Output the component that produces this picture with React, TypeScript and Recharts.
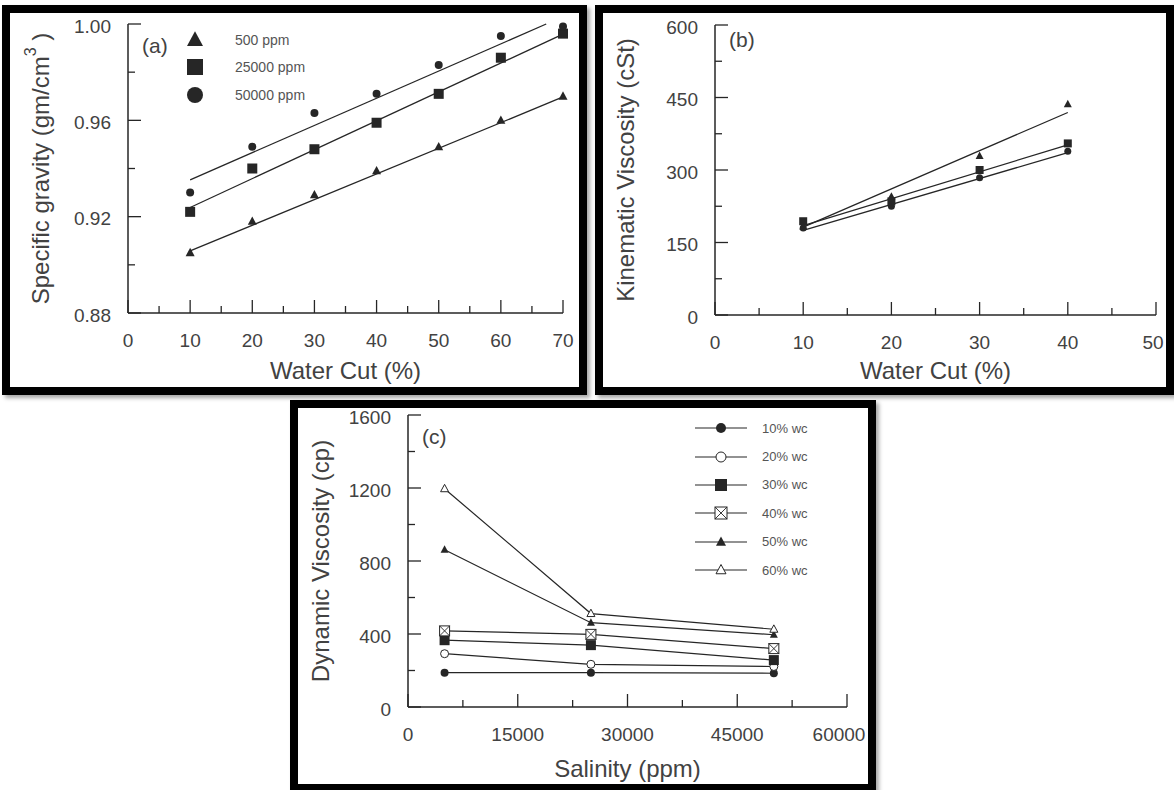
import { ScatterChart, Scatter, XAxis, YAxis, Legend, Label } from "recharts";

const INK = "#262626";
const TEXT = "#424242";
const FONT = "'Liberation Sans', Arial, Helvetica, sans-serif";

// (a) specific gravity vs water cut
const wcA = [10, 20, 30, 40, 50, 60, 70];
const sg500 = [0.905, 0.918, 0.929, 0.939, 0.949, 0.96, 0.97];
const sg25000 = [0.922, 0.94, 0.948, 0.959, 0.971, 0.986, 0.996];
const sg50000 = [0.93, 0.949, 0.963, 0.971, 0.983, 0.995, 0.999];
const fitX500 = [10, 70];
const fitY500 = [0.9058, 0.9697];
const fitX25000 = [10, 70];
const fitY25000 = [0.9238, 0.9958];
const fitX50000 = [10, 67.3];
const fitY50000 = [0.9353, 1.0];
const xTicksA = [0, 5, 10, 15, 20, 25, 30, 35, 40, 45, 50, 55, 60, 65, 70];
const xLabelsA = [0, 10, 20, 30, 40, 50, 60, 70];
const yTicksA = [0.88, 0.9, 0.92, 0.94, 0.96, 0.98, 1.0];
const yLabelsA = [0.88, 0.92, 0.96, 1.0];

// (b) kinematic viscosity vs water cut
const wcB = [10, 20, 30, 40];
const kv500 = [183, 245, 329, 436];
const kv25000 = [194, 235, 300, 355];
const kv50000 = [180, 225, 284, 339];
const fitXB = [10, 40];
const fitKv500 = [182, 419];
const fitKv25000 = [185, 352];
const fitKv50000 = [175, 336];
const xTicksB = [0, 5, 10, 15, 20, 25, 30, 35, 40, 45, 50];
const xLabelsB = [0, 10, 20, 30, 40, 50];
const yTicksB = [0, 75, 150, 225, 300, 375, 450, 525, 600];
const yLabelsB = [0, 150, 300, 450, 600];

// (c) dynamic viscosity vs salinity
const salinity = [5000, 25000, 50000];
const dv10 = [188, 188, 185];
const dv20 = [292, 234, 222];
const dv30 = [366, 339, 257];
const dv40 = [417, 398, 320];
const dv50 = [862, 462, 396];
const dv60 = [1196, 512, 426];
const xTicksC = [0, 7500, 15000, 22500, 30000, 37500, 45000, 52500, 60000];
const xLabelsC = [0, 15000, 30000, 45000, 60000];
const yTicksC = [0, 200, 400, 600, 800, 1000, 1200, 1400, 1600];
const yLabelsC = [0, 400, 800, 1200, 1600];

const pts = (xs: number[], ys: number[]) => xs.map((x, i) => ({ x, y: ys[i] }));

type Kind = "dot" | "ring" | "sq" | "sqx" | "tri" | "trio";

function Marker({ kind, cx, cy, s }: { kind: Kind; cx: number; cy: number; s: number }) {
  const h = s / 2;
  const tri = `${cx},${cy - h * 1.1} ${cx - h},${cy + h * 0.75} ${cx + h},${cy + h * 0.75}`;
  switch (kind) {
    case "dot":
      return <circle cx={cx} cy={cy} r={h} fill={INK} />;
    case "ring":
      return <circle cx={cx} cy={cy} r={h} fill="#fff" stroke={INK} strokeWidth={1} />;
    case "sq":
      return <rect x={cx - h} y={cy - h} width={s} height={s} fill={INK} />;
    case "sqx":
      return (
        <g>
          <rect x={cx - h} y={cy - h} width={s} height={s} fill="#fff" stroke={INK} strokeWidth={1} />
          <line x1={cx - h} y1={cy - h} x2={cx + h} y2={cy + h} stroke={INK} strokeWidth={0.9} />
          <line x1={cx + h} y1={cy - h} x2={cx - h} y2={cy + h} stroke={INK} strokeWidth={0.9} />
        </g>
      );
    case "tri":
      return <polygon points={tri} fill={INK} />;
    default:
      return <polygon points={tri} fill="#fff" stroke={INK} strokeWidth={1} />;
  }
}

const shapeOf = (kind: Kind, s: number) => (p: any) => <Marker kind={kind} cx={p.cx} cy={p.cy} s={s} />;
const noShape = () => <g />;

// inward tick marks, long ones carry a label; the last label can be nudged away from the frame
function axisTick(side: "x" | "y", labels: number[], fmt: (v: number) => string, lastDx = 0) {
  const last = labels[labels.length - 1];
  return (props: any) => {
    const { x, y, payload } = props;
    const v = payload.value as number;
    const major = labels.some((l) => Math.abs(l - v) < 1e-9);
    const len = major ? 13 : 7;
    if (side === "x") {
      const dx = v === last ? lastDx : 0;
      return (
        <g>
          <line x1={x} y1={y} x2={x} y2={y - len} stroke={INK} strokeWidth={1.3} />
          {major && (
            <text x={x + dx} y={y + 27} textAnchor="middle" dominantBaseline="central" fontSize={19} fill={TEXT} fontFamily={FONT}>
              {fmt(v)}
            </text>
          )}
        </g>
      );
    }
    return (
      <g>
        <line x1={x} y1={y} x2={x + len} y2={y} stroke={INK} strokeWidth={1.3} />
        {major && (
          <text x={x - 17} y={y + 2} textAnchor="end" dominantBaseline="central" fontSize={19} fill={TEXT} fontFamily={FONT}>
            {fmt(v)}
          </text>
        )}
      </g>
    );
  };
}

const xTitle = (text: string, dy: number) => (props: any) => {
  const vb = props.viewBox;
  return (
    <text x={vb.x + vb.width / 2} y={vb.y + dy} textAnchor="middle" dominantBaseline="central" fontSize={24} fill={TEXT} fontFamily={FONT}>
      {text}
    </text>
  );
};

const yTitle = (text: string, sup: string, tail: string, dx: number) => (props: any) => {
  const vb = props.viewBox;
  const cx = vb.x + vb.width - dx;
  const cy = vb.y + vb.height / 2;
  return (
    <text x={cx} y={cy} transform={`rotate(-90 ${cx} ${cy})`} textAnchor="middle" dominantBaseline="central" fontSize={24} fill={TEXT} fontFamily={FONT}>
      {text}
      {sup && (
        <tspan dy={-10} fontSize={16}>
          {sup}
        </tspan>
      )}
      {sup ? <tspan dy={10}>{tail}</tspan> : tail}
    </text>
  );
};

const panelTag = (tag: string, dx: number, dy: number) => (props: any) => {
  const vb = props.viewBox;
  return (
    <text x={vb.x + vb.width + dx} y={vb.y + dy} dominantBaseline="central" fontSize={21} fill={TEXT} fontFamily={FONT}>
      {tag}
    </text>
  );
};

const axisLine = { stroke: INK, strokeWidth: 1.5 };
const fitLine = { stroke: INK, strokeWidth: 1.3 };

const seriesA: { name: string; kind: Kind }[] = [
  { name: "500 ppm", kind: "tri" },
  { name: "25000 ppm", kind: "sq" },
  { name: "50000 ppm", kind: "dot" },
];

const legendA = () => (
  <div style={{ fontFamily: FONT }}>
    {seriesA.map((s) => (
      <div key={s.name} style={{ height: 27.5, display: "flex", alignItems: "center" }}>
        <svg width={20} height={20}>
          <Marker kind={s.kind} cx={10} cy={10} s={16} />
        </svg>
        <span style={{ marginLeft: 30, fontSize: 14, color: "#555" }}>{s.name}</span>
      </div>
    ))}
  </div>
);

const seriesC: { name: string; kind: Kind }[] = [
  { name: "10% wc", kind: "dot" },
  { name: "20% wc", kind: "ring" },
  { name: "30% wc", kind: "sq" },
  { name: "40% wc", kind: "sqx" },
  { name: "50% wc", kind: "tri" },
  { name: "60% wc", kind: "trio" },
];

const legendC = () => (
  <div style={{ fontFamily: FONT }}>
    {seriesC.map((s) => (
      <div key={s.name} style={{ height: 28.4, display: "flex", alignItems: "center" }}>
        <svg width={52} height={18}>
          <line x1={0} y1={9} x2={52} y2={9} stroke={INK} strokeWidth={1.2} />
          <Marker kind={s.kind} cx={26} cy={9} s={s.kind === "sq" || s.kind === "sqx" ? 12 : 10} />
        </svg>
        <span style={{ marginLeft: 15, fontSize: 13, color: "#555" }}>{s.name}</span>
      </div>
    ))}
  </div>
);

const panelStyle = (left: number, top: number, width: number, height: number): React.CSSProperties => ({
  position: "absolute",
  left,
  top,
  width,
  height,
  border: "8px solid #000",
  boxSizing: "border-box",
  background: "#fff",
  boxShadow: "3px 3px 4px rgba(0,0,0,0.35)",
});

function ChartA() {
  return (
    <ScatterChart width={569} height={374} margin={{ top: 11, right: 16, bottom: 44, left: 58 }}>
      <XAxis type="number" dataKey="x" domain={[0, 70]} ticks={xTicksA} interval={0} height={30} tickSize={0} tickMargin={0} tickLine={false} axisLine={axisLine} tick={axisTick("x", xLabelsA, (v) => String(v))}>
        <Label content={xTitle("Water Cut (%)", 57)} />
      </XAxis>
      <YAxis type="number" dataKey="y" domain={[0.88, 1.0]} ticks={yTicksA} interval={0} width={60} tickSize={0} tickMargin={0} tickLine={false} axisLine={axisLine} tick={axisTick("y", yLabelsA, (v) => v.toFixed(2))}>
        <Label content={yTitle("Specific gravity (gm/cm", "3", " )", 88)} />
        <Label content={panelTag("(a)", 14, 21)} />
      </YAxis>
      <Scatter data={pts(fitX500, fitY500)} line={fitLine} shape={noShape} isAnimationActive={false} />
      <Scatter data={pts(fitX25000, fitY25000)} line={fitLine} shape={noShape} isAnimationActive={false} />
      <Scatter data={pts(fitX50000, fitY50000)} line={fitLine} shape={noShape} isAnimationActive={false} />
      <Scatter name="500 ppm" data={pts(wcA, sg500)} shape={shapeOf("tri", 9)} isAnimationActive={false} />
      <Scatter name="25000 ppm" data={pts(wcA, sg25000)} shape={shapeOf("sq", 10)} isAnimationActive={false} />
      <Scatter name="50000 ppm" data={pts(wcA, sg50000)} shape={shapeOf("dot", 8)} isAnimationActive={false} />
      <Legend content={legendA} layout="vertical" align="center" verticalAlign="middle" wrapperStyle={{ left: 175, top: 13, width: "auto", height: "auto" }} />
    </ScatterChart>
  );
}

function ChartB() {
  return (
    <ScatterChart width={563} height={374} margin={{ top: 12, right: 10, bottom: 42, left: 52 }}>
      <XAxis type="number" dataKey="x" domain={[0, 50]} ticks={xTicksB} interval={0} height={30} tickSize={0} tickMargin={0} tickLine={false} axisLine={axisLine} tick={axisTick("x", xLabelsB, (v) => String(v), -3)}>
        <Label content={xTitle("Water Cut (%)", 55)} />
      </XAxis>
      <YAxis type="number" dataKey="y" domain={[0, 600]} ticks={yTicksB} interval={0} width={60} tickSize={0} tickMargin={0} tickLine={false} axisLine={axisLine} tick={axisTick("y", yLabelsB, (v) => String(v))}>
        <Label content={yTitle("Kinematic Viscosity (cSt)", "", "", 90)} />
        <Label content={panelTag("(b)", 14, 14)} />
      </YAxis>
      <Scatter data={pts(fitXB, fitKv500)} line={fitLine} shape={noShape} isAnimationActive={false} />
      <Scatter data={pts(fitXB, fitKv25000)} line={fitLine} shape={noShape} isAnimationActive={false} />
      <Scatter data={pts(fitXB, fitKv50000)} line={fitLine} shape={noShape} isAnimationActive={false} />
      <Scatter name="500 ppm" data={pts(wcB, kv500)} shape={shapeOf("tri", 8)} isAnimationActive={false} />
      <Scatter name="50000 ppm" data={pts(wcB, kv50000)} shape={shapeOf("dot", 7)} isAnimationActive={false} />
      <Scatter name="25000 ppm" data={pts(wcB, kv25000)} shape={shapeOf("sq", 8)} isAnimationActive={false} />
    </ScatterChart>
  );
}

function ChartC() {
  const lines = [dv10, dv20, dv30, dv40, dv50, dv60];
  return (
    <ScatterChart width={570} height={376} margin={{ top: 7, right: 21, bottom: 47, left: 50 }}>
      <XAxis type="number" dataKey="x" domain={[0, 60000]} ticks={xTicksC} interval={0} height={30} tickSize={0} tickMargin={0} tickLine={false} axisLine={axisLine} tick={axisTick("x", xLabelsC, (v) => String(v), -8)}>
        <Label content={xTitle("Salinity (ppm)", 61)} />
      </XAxis>
      <YAxis type="number" dataKey="y" domain={[0, 1600]} ticks={yTicksC} interval={0} width={60} tickSize={0} tickMargin={0} tickLine={false} axisLine={axisLine} tick={axisTick("y", yLabelsC, (v) => String(v))}>
        <Label content={yTitle("Dynamic Viscosity (cp)", "", "", 88)} />
        <Label content={panelTag("(c)", 14, 21)} />
      </YAxis>
      {seriesC.map((s, i) => (
        <Scatter
          key={s.name}
          name={s.name}
          data={pts(salinity, lines[i])}
          line={{ stroke: INK, strokeWidth: 1.2 }}
          shape={shapeOf(s.kind, s.kind === "sq" || s.kind === "sqx" ? 10 : 8)}
          isAnimationActive={false}
        />
      ))}
      <Legend content={legendC} layout="vertical" align="center" verticalAlign="middle" wrapperStyle={{ left: 397, top: 6, width: "auto", height: "auto" }} />
    </ScatterChart>
  );
}

export default function App() {
  return (
    <div style={{ position: "absolute", left: 0, top: 0, width: 1174, height: 790, background: "#fff", overflow: "hidden" }}>
      <div style={panelStyle(2, 5, 585, 390)}>
        <ChartA />
      </div>
      <div style={panelStyle(595, 5, 579, 390)}>
        <ChartB />
      </div>
      <div style={panelStyle(290, 400, 586, 392)}>
        <ChartC />
      </div>
    </div>
  );
}
